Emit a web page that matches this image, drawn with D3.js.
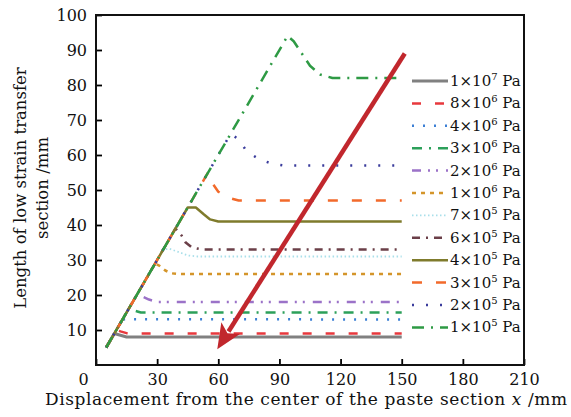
<!DOCTYPE html>
<html>
<head>
<meta charset="utf-8">
<script src="https://d3js.org/d3.v7.min.js"></script>
<style>
  body { margin: 0; background: #fff; }
  svg { display: block; font-family: "DejaVu Serif", "Liberation Serif", serif; }
</style>
</head>
<body>
<svg width="571" height="417"></svg>
<script>

// tick labels
var xTicks = [0, 30, 60, 90, 120, 150, 180, 210];
var yTicks = [10, 20, 30, 40, 50, 60, 70, 80, 90, 100];

// legend labels: mantissa x 10^exp Pa
var mantissa = [1, 8, 4, 3, 2, 1, 7, 6, 4, 3, 2, 1];
var exponent = [7, 6, 6, 6, 6, 6, 5, 5, 5, 5, 5, 5];

// series values [x, y]
var p1e7 = [[5, 5], [9, 9], [12, 8.5], [15, 8], [150, 8]];
var p8e6 = [[5, 5], [10, 10], [12, 9.6], [15, 9.1], [18, 9], [150, 9]];
var p4e6 = [[5, 5], [13, 13], [16, 13.1], [150, 13]];
var p3e6 = [[5, 5], [16, 16], [19, 15.5], [22, 15], [150, 15]];
var p2e6 = [[5, 5], [20, 20], [23, 19.5], [26, 18.7], [30, 18], [150, 18]];
var p1e6 = [[5, 5], [29, 29], [31, 28.4], [34, 27], [37, 26.2], [40, 26], [150, 26]];
var p7e5 = [[5, 5], [33, 33], [36, 33.2], [40, 32.4], [45, 31.3], [50, 31], [150, 31]];
var p6e5 = [[5, 5], [39, 39], [42, 37], [44, 35], [47, 33.6], [52, 33], [150, 33]];
var p4e5 = [[5, 5], [45, 45], [49, 45], [53, 43], [56, 41.6], [60, 41], [150, 41]];
var p3e5 = [[5, 5], [55, 55], [57, 52], [60, 49.5], [65, 47.8], [70, 47], [150, 47]];
var p2e5 = [[5, 5], [66, 66], [70, 64.5], [74, 61], [80, 58.8], [86, 57.6], [92, 57], [150, 57]];
var p1e5 = [[5, 5], [94, 94], [97, 92.5], [101, 89], [105, 85.5], [110, 83], [116, 82], [150, 82]];

var series = [p1e7, p8e6, p4e6, p3e6, p2e6, p1e6, p7e5, p6e5, p4e5, p3e5, p2e5, p1e5];

// styles
var colors = ["#808080", "#e8383d", "#3b7fd4", "#2ca05a", "#9b72c8", "#d4952a",
              "#a9dfea", "#6b3f48", "#7f7b2c", "#f26a2b", "#3a3c9c", "#2e9a44"];
var dashes = ["none", "9,14", "2,9", "10,7,2,7", "9,7,2,6,2,8", "4,5",
              "1.5,2.5", "8,6,2,6", "none", "10,14", "2,12", "12,7,2,7"];
var widths = [3, 2.5, 2.5, 2.5, 2.5, 2.5, 1.8, 2.5, 2.5, 2.5, 2.5, 2.5];

// arrow (data coordinates)
var arrowFrom = [151.5, 89];
var arrowTo = [59.5, 4.5];

var svg = d3.select("svg");
var mLeft = 96, mRight = 524, mTop = 15, mBottom = 365;

var x = d3.scaleLinear().domain([0, 210]).range([mLeft, mRight]);
var y = d3.scaleLinear().domain([0, 100]).range([mBottom, mTop]);

var line = d3.line()
    .x(function(d) { return x(d[0]); })
    .y(function(d) { return y(d[1]); });

// axes
var gx = svg.append("g")
    .attr("transform", "translate(0," + mBottom + ")")
    .call(d3.axisBottom(x).tickValues(xTicks).tickSizeInner(-6).tickSizeOuter(0).tickPadding(9));
var gy = svg.append("g")
    .attr("transform", "translate(" + mLeft + ",0)")
    .call(d3.axisLeft(y).tickValues(yTicks).tickSizeInner(-6).tickSizeOuter(0).tickPadding(9));

[gx, gy].forEach(function(g) {
  g.select(".domain").remove();
  g.selectAll(".tick line").attr("stroke", "#000").attr("stroke-width", 1.8);
  g.selectAll(".tick text")
      .attr("font-family", "DejaVu Serif")
      .attr("font-size", 16)
      .attr("fill", "#111");
});
gx.selectAll(".tick").filter(function(d) { return d === 0; })
    .select("text").attr("dx", -13);

// lines
svg.append("g")
    .attr("fill", "none")
  .selectAll("path")
  .data(series)
  .enter().append("path")
    .attr("d", line)
    .attr("stroke", function(d, i) { return colors[i]; })
    .attr("stroke-width", function(d, i) { return widths[i]; })
    .attr("stroke-dasharray", function(d, i) { return dashes[i]; })
    .attr("stroke-linejoin", "round");

// frame
svg.append("rect")
    .attr("x", mLeft).attr("y", mTop)
    .attr("width", mRight - mLeft).attr("height", mBottom - mTop)
    .attr("fill", "none")
    .attr("stroke", "#111")
    .attr("stroke-width", 2);

// legend
var legend = svg.append("g").attr("class", "legend");
var row = legend.selectAll("g")
    .data(mantissa)
  .enter().append("g")
    .attr("transform", function(d, i) { return "translate(0," + (81 + i * 22.4) + ")"; });

row.append("line")
    .attr("x1", 412).attr("x2", 448)
    .attr("stroke", function(d, i) { return colors[i]; })
    .attr("stroke-width", function(d, i) { return widths[i]; })
    .attr("stroke-dasharray", function(d, i) { return dashes[i]; });

var lt = row.append("text")
    .attr("x", 450)
    .attr("y", 5)
    .attr("font-size", 15)
    .attr("fill", "#111");
lt.append("tspan").text(function(d) { return d + "\u00d710"; });
lt.append("tspan")
    .attr("font-size", 10)
    .attr("dy", -6)
    .text(function(d, i) { return exponent[i]; });
lt.append("tspan")
    .attr("dy", 6)
    .text(" Pa");

// arrow
var ax1 = x(arrowFrom[0]), ay1 = y(arrowFrom[1]);
var ax2 = x(arrowTo[0]), ay2 = y(arrowTo[1]);
var ang = Math.atan2(ay2 - ay1, ax2 - ax1);
var headLen = 25, headW = 11;
var bx = ax2 - headLen * Math.cos(ang), by = ay2 - headLen * Math.sin(ang);
svg.append("line")
    .attr("x1", ax1).attr("y1", ay1)
    .attr("x2", bx + 4 * Math.cos(ang)).attr("y2", by + 4 * Math.sin(ang))
    .attr("stroke", "#c1272d")
    .attr("stroke-width", 4.5);
svg.append("path")
    .attr("d", "M" + ax2 + "," + ay2 +
      "L" + (bx + headW * Math.sin(ang)) + "," + (by - headW * Math.cos(ang)) +
      "L" + (bx + 6 * Math.cos(ang)) + "," + (by + 6 * Math.sin(ang)) +
      "L" + (bx - headW * Math.sin(ang)) + "," + (by + headW * Math.cos(ang)) + "Z")
    .attr("fill", "#c1272d");

// axis titles
var xt = svg.append("text")
    .attr("x", 45)
    .attr("y", 405)
    .attr("font-size", 17)
    .attr("textLength", 522)
    .attr("lengthAdjust", "spacing")
    .attr("fill", "#111");
xt.append("tspan").text("Displacement from the center of the paste section ");
xt.append("tspan").attr("font-style", "italic").text("x");
xt.append("tspan").text(" /mm");

var yt = svg.append("text")
    .attr("transform", "translate(26,188) rotate(-90)")
    .attr("text-anchor", "middle")
    .attr("font-size", 16.5)
    .attr("fill", "#111");
yt.append("tspan").attr("x", 0).attr("y", 0).text("Length of low strain transfer");
yt.append("tspan").attr("x", 0).attr("y", 22).text("section /mm");

</script>
</body>
</html>
